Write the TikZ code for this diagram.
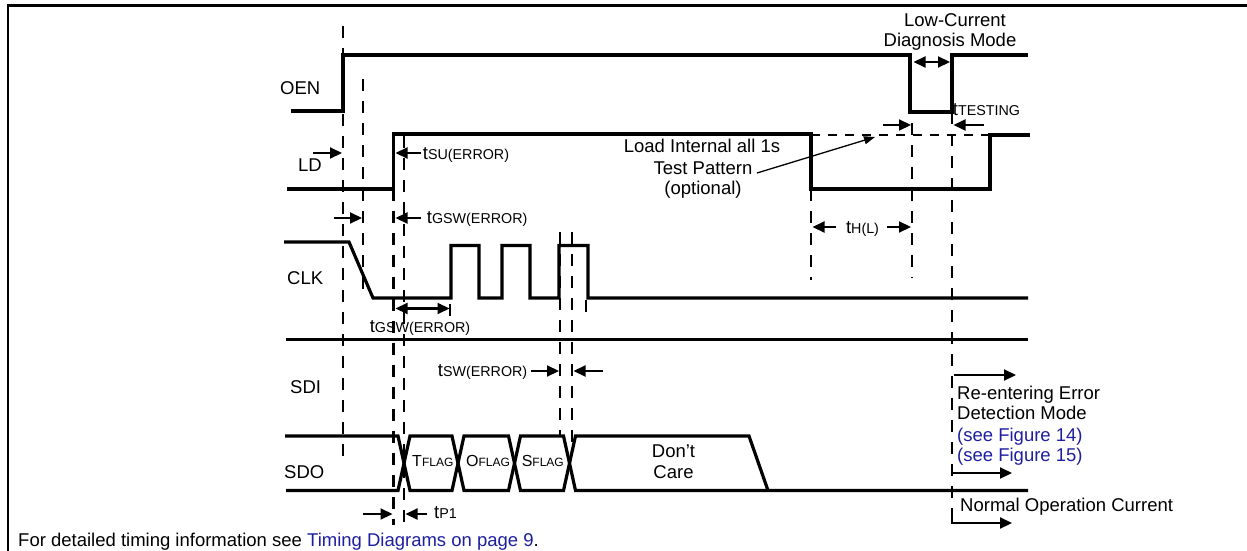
\documentclass[tikz,border=0pt]{standalone}
\usepackage{fontspec}
\setmainfont{Liberation Sans}
\usetikzlibrary{arrows.meta}
\definecolor{linkblue}{RGB}{30,30,160}
\newcommand{\bigf}{\fontsize{18.5}{20.5}\selectfont}
\newcommand{\smf}{\fontsize{14.3}{16}\selectfont}
\newcommand{\flagf}{\fontsize{12}{14}\selectfont}
\newcommand{\tlab}[1]{{\bigf t}{\smf #1}}
\newcommand{\flaglab}[1]{{\fontsize{16}{18}\selectfont #1}{\flagf FLAG}}
\begin{document}
\begin{tikzpicture}[x=1pt,y=-1pt,
  sig/.style={line width=3.2pt},
  guide/.style={line width=2.5pt, dash pattern=on 12pt off 10pt},
  dotguide/.style={line width=2.5pt, dash pattern=on 9pt off 8pt},
  dimarrow/.style={line width=2.1pt, -{Triangle[length=12pt,width=11pt]}},
  dimboth/.style={line width=2.1pt, {Triangle[length=12pt,width=11pt]}-{Triangle[length=12pt,width=11pt]}},
  lab/.style={inner sep=0pt, font=\bigf},
  blab/.style={lab, anchor=base west},
  clab/.style={lab, anchor=base},
]
\useasboundingbox (0,0) rectangle (1247,551);
% frame
\draw[line width=2.5pt] (8,551) -- (8,5.5) -- (1247,5.5);

% guide lines
\draw[guide] (343,26) -- (343,462);
\draw[guide] (363,79) -- (363,297);
\draw[guide] (393.5,189) -- (393.5,525);
\draw[guide] (404,136) -- (404,525);
\draw[guide] (450,304) -- (450,318);
\draw[guide] (560,232) -- (560,436);
\draw[guide] (572,232) -- (572,447);
\draw[guide] (586,300) -- (586,320);
\draw[guide] (811,189) -- (811,280);
\draw[guide] (912,123) -- (912,278);
\draw[guide] (952,112) -- (952,528);
\draw[dotguide] (811,135) -- (990,135);

% signals
\draw[sig] (291,111) -- (343,111) -- (343,55) -- (910,55) -- (910,112) -- (952,112) -- (952,55) -- (1028,55);
\draw[sig] (287,189) -- (393.5,189) -- (393.5,134) -- (811,134) -- (811,189) -- (990,189) -- (990,135) -- (1030,135);
\draw[sig] (284,242) -- (349,242) -- (373,298) -- (451,298) -- (451,245.5) -- (479,245.5) -- (479,298) -- (502,298) -- (502,245.5) -- (530,245.5) -- (530,298) -- (559,298) -- (559,245.5) -- (588,245.5) -- (588,298) -- (1028,298);
\draw[sig] (286,339.3) -- (1028,339.3);
\draw[sig] (285,436) -- (398,436) -- (410,490.5) -- (452,490.5) -- (464,436) -- (508.5,436) -- (520.5,490.5) -- (563.5,490.5) -- (575.5,436) -- (749,436) -- (768,490.5);
\draw[sig] (286,490.5) -- (398,490.5) -- (410,436) -- (452,436) -- (464,490.5) -- (508.5,490.5) -- (520.5,436) -- (563.5,436) -- (575.5,490.5) -- (1028,490.5);

% signal labels
\node[blab] (oen) at (280,94) {OEN};
\node[blab] (ld) at (298,171) {LD};
\node[blab] (clk) at (287,284) {CLK};
\node[blab] (sdi) at (290,393) {SDI};
\node[blab] (sdo) at (284,478) {SDO};

% SDO contents
\node[clab] (tflag) at (432.8,466) {\flaglab{T}};
\node[clab] (oflag) at (488,466) {\flaglab{O}};
\node[clab] (sflag) at (542.8,466) {\flaglab{S}};
\node[clab] (dc1) at (673.5,457.3) {Don’t};
\node[clab] (dc2) at (673.5,478.3) {Care};

% timing labels
\node[blab] (tsu) at (422.7,159.5) {\tlab{SU(ERROR)}};
\node[blab] (tgsw1) at (426.7,223) {\tlab{GSW(ERROR)}};
\node[clab] (tgsw2) at (420,332.7) {\tlab{GSW(ERROR)}};
\node[blab] (tsw) at (437.7,376) {\tlab{SW(ERROR)}};
\node[blab] (tp1) at (434,518) {\tlab{P1}};
\node[clab] (thl) at (862.5,233.3) {\tlab{H(L)}};
\node[blab] (ttest) at (952.7,115) {\tlab{TESTING}};

% dimension arrows
\draw[dimarrow] (313,153) -- (342,153);
\draw[dimarrow] (421,153) -- (395.5,153);
\draw[dimarrow] (334,218) -- (362,218);
\draw[dimarrow] (421,218) -- (395.5,218);
\draw[dimboth] (395.5,308.5) -- (449.5,308.5);
\draw[dimarrow] (531,371) -- (559,371);
\draw[dimarrow] (603,371) -- (573.5,371);
\draw[dimarrow] (363,514) -- (392.5,514);
\draw[dimarrow] (427,514) -- (405.5,514);
\draw[dimboth] (913.5,62) -- (950,62);
\draw[dimarrow] (883,125) -- (911,125);
\draw[dimarrow] (984,125) -- (953.5,125);
\draw[dimarrow] (836,227) -- (812.5,227);
\draw[dimarrow] (887,227) -- (911,227);

% annotations
\node[clab] (load1) at (702,152.5) {Load Internal all 1s};
\node[clab] (load2) at (703,174) {Test Pattern};
\node[clab] (load3) at (703,194.5) {(optional)};
\draw[line width=1.3pt, -{Triangle[length=11pt,width=8pt]}] (757,173) -- (875,137);

\node[clab] (lc1) at (955,26.7) {Low-Current};
\node[clab] (lc2) at (950,46.7) {Diagnosis Mode};

\node[blab] (re1) at (957,399) {Re-entering Error};
\node[blab] (re2) at (957,419.5) {Detection Mode};
\node[blab, text=linkblue] (re3) at (957,441) {(see Figure 14)};
\node[blab, text=linkblue] (re4) at (957,461.7) {(see Figure 15)};
\node[blab] (noc) at (960,511.7) {Normal Operation Current};
\draw[dimarrow] (954,375) -- (1016,375);
\draw[dimarrow] (952,465) -- (952,473) -- (1012,473);
\draw[dimarrow] (952,517) -- (952,523) -- (1012,523);

% footer
\node[blab] (foot) at (18,546) {For detailed timing information see \textcolor{linkblue}{Timing Diagrams on page 9}.};
\end{tikzpicture}
\end{document}
